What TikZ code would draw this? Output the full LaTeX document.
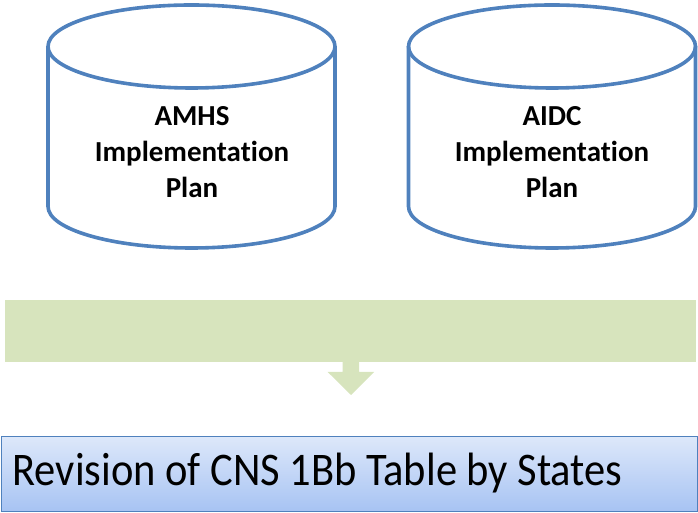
\documentclass[tikz,border=0pt]{standalone}
\usepackage{fontspec}
\setmainfont{Carlito}[Ligatures=NoCommon]
\usetikzlibrary{positioning}
\definecolor{cylblue}{HTML}{4F81BD}
\definecolor{bargreen}{HTML}{D7E4BD}
\definecolor{boxtop}{HTML}{DDE8FA}
\definecolor{boxbot}{HTML}{A7C3F3}
\tikzset{
  cylline/.style={draw=cylblue, line width=3.6pt},
  cyltext/.style={align=center, font=\fontsize{29}{36}\selectfont\bfseries},
  revbox/.style={draw=cylblue, line width=1.2pt, top color=boxtop, bottom color=boxbot,
    minimum width=696pt, minimum height=75pt, anchor=south west, inner sep=0pt},
}
\begin{document}
\begin{tikzpicture}[x=1pt,y=1pt]
  \useasboundingbox (0,0) rectangle (698,513);
  % left cylinder
  \draw[cylline] (191.5,466.5) ellipse [x radius=143.5, y radius=41.5];
  \draw[cylline] (48,466.5) -- (48,306.5) arc [start angle=180, end angle=360, x radius=143.5, y radius=41.5] -- (335,466.5);
  \node[cyltext] (amhs) at (192,361) {AMHS\\Implementation\\Plan};
  % right cylinder
  \draw[cylline] (552,466.5) ellipse [x radius=143.5, y radius=41.5];
  \draw[cylline] (408.5,466.5) -- (408.5,306.5) arc [start angle=180, end angle=360, x radius=143.5, y radius=41.5] -- (695.5,466.5);
  \node[cyltext] (aidc) at (552,361) {AIDC\\Implementation\\Plan};
  % green bar and block arrow
  \node[fill=bargreen, minimum width=691pt, minimum height=62pt, inner sep=0pt, anchor=south west] (bar) at (5,151) {};
  \fill[bargreen] (bar.south) ++(-8,0) -- ++(0,-10) -- ++(-15,0) -- (351,118) -- (374,141) -- ++(-15,0) -- ++(0,10) -- cycle;
  % result box
  \node[revbox] (rev) at (1,1) {};
  \node[anchor=west, font=\fontsize{42.5}{48}\selectfont, yscale=1.1, transform shape] (revtext) at ([xshift=8pt,yshift=1pt]rev.west) {Revision of CNS 1Bb Table by States};
\end{tikzpicture}
\end{document}
